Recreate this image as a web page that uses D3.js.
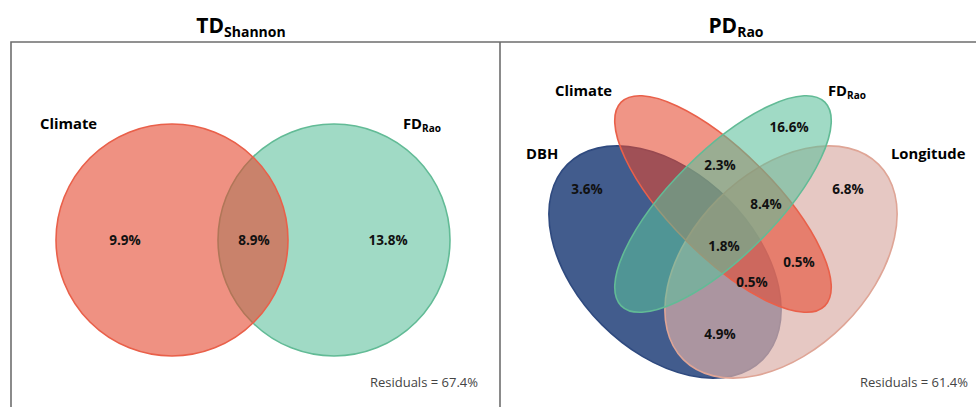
<!DOCTYPE html>
<html>
<head>
<meta charset="utf-8">
<script src="https://cdn.jsdelivr.net/npm/d3@7"></script>
<style>
  body { margin: 0; background: #fff; }
  svg { display: block; font-family: "Open Sans", "Noto Sans", sans-serif; }
</style>
</head>
<body>
<svg id="chart"></svg>
<script>
// ---- data ----
const panelTitles = [["TD", "Shannon"], ["PD", "Rao"]];

// left panel: two sets
const leftSets = [["Climate", ""], ["FD", "Rao"]];
const leftValues = ["9.9%", "8.9%", "13.8%"];     // Climate only, both, FD only
const leftResidual = "Residuals = 67.4%";

// right panel: four sets
const rightSets = [["DBH", ""], ["Climate", ""], ["FD", "Rao"], ["Longitude", ""]];
const rightValues = ["16.6%", "2.3%", "3.6%", "6.8%", "8.4%", "1.8%", "0.5%", "0.5%", "4.9%"];
const rightResidual = "Residuals = 61.4%";

// ---- layout (unit coordinates, VennDiagram style) ----
const leftCircles = [          // drawn in this order (FD under Climate)
  { set: 1, cx: 0.7025, cy: 0.5, r: 0.29, fill: "#5cc09b", op: 0.58, stroke: "#62bb96" },
  { set: 0, cx: 0.2975, cy: 0.5, r: 0.29, fill: "#e4472f", op: 0.6, stroke: "#e9604a" }
];
const leftSetPos = [[-0.0325, 0.7875], [0.875, 0.7875]];
const leftValuePos = [[0.18, 0.4975], [0.5025, 0.4975], [0.8375, 0.4975]];

const rightEllipses = [        // drawing order: DBH, Longitude, Climate, FD
  { set: 0, cx: 0.355, cy: 0.445, a: 0.345, b: 0.2225, rot: 45,  fill: "#3a5588", op: 0.96, stroke: "#2f4a7f" },
  { set: 3, cx: 0.645, cy: 0.445, a: 0.345, b: 0.2225, rot: -45, fill: "#dbafa8", op: 0.69, stroke: "#dfa596" },
  { set: 1, cx: 0.5,   cy: 0.59,  a: 0.36,  b: 0.13,  rot: 45,  fill: "#e6492f", op: 0.58, stroke: "#e9604a" },
  { set: 2, cx: 0.5,   cy: 0.59,  a: 0.36,  b: 0.13,  rot: -45, fill: "#5cc09b", op: 0.58, stroke: "#62bb96" }
];
const rightSetPos = [[0.0075, 0.7125], [0.08, 0.87], [0.7625, 0.87], [0.92, 0.7125]];
const rightValuePos = [[0.665, 0.78], [0.4925, 0.685], [0.16, 0.625], [0.8125, 0.625],
  [0.6075, 0.5875], [0.5025, 0.4825], [0.69, 0.4425], [0.5725, 0.3925], [0.4925, 0.2625]];

// ---- svg ----
const W = 976, H = 407;
const svg = d3.select("#chart").attr("width", W).attr("height", H);

// frame
svg.append("path")
  .attr("d", `M11,${H} V42 H${W} M500,42 V${H}`)
  .attr("fill", "none").attr("stroke", "#6e6e6e").attr("stroke-width", 1.6);

function subText(g, x, y, main, sub, size, subSize, anchor) {
  const t = g.append("text").attr("x", x).attr("y", y)
    .attr("font-weight", "bold").attr("font-size", size)
    .attr("text-anchor", anchor || "start").attr("dominant-baseline", "middle");
  t.append("tspan").text(main);
  if (sub) t.append("tspan").attr("font-size", subSize).attr("dy", size * 0.3).text(sub);
  return t;
}

// titles
subText(svg, 241, 27, panelTitles[0][0], panelTitles[0][1], 21, 14, "middle");
subText(svg, 736, 27, panelTitles[1][0], panelTitles[1][1], 21, 14, "middle");

// ---- left panel ----
const lx = d3.scaleLinear().domain([0, 1]).range([53, 453]);
const ly = d3.scaleLinear().domain([0, 1]).range([440, 40]);
const left = svg.append("g");

left.selectAll("circle").data(leftCircles).enter().append("circle")
  .attr("cx", d => lx(d.cx)).attr("cy", d => ly(d.cy))
  .attr("r", d => lx(d.r) - lx(0))
  .attr("fill", d => d.fill).attr("fill-opacity", d => d.op)
  .attr("stroke", d => d.stroke).attr("stroke-width", 1.6);

leftSets.forEach((s, i) => subText(left, lx(leftSetPos[i][0]), ly(leftSetPos[i][1]), s[0], s[1], 14.8, 10));

left.selectAll("text.val").data(leftValues).enter().append("text").attr("class", "val")
  .attr("x", (d, i) => lx(leftValuePos[i][0])).attr("y", (d, i) => ly(leftValuePos[i][1]))
  .attr("text-anchor", "middle").attr("dominant-baseline", "middle")
  .attr("font-weight", "bold").attr("font-size", 13.5).attr("fill", "#111")
  .text(d => d);

left.append("text").attr("x", 478).attr("y", 384)
  .attr("text-anchor", "end").attr("dominant-baseline", "middle")
  .attr("font-size", 13).attr("fill", "#444").text(leftResidual);

// ---- right panel ----
const rx = d3.scaleLinear().domain([0, 1]).range([523, 923]);
const ry = d3.scaleLinear().domain([0, 1]).range([440, 40]);
const right = svg.append("g");

right.selectAll("ellipse").data(rightEllipses).enter().append("ellipse")
  .attr("transform", d => `translate(${rx(d.cx)},${ry(d.cy)}) rotate(${d.rot})`)
  .attr("rx", d => rx(d.a) - rx(0)).attr("ry", d => rx(d.b) - rx(0))
  .attr("fill", d => d.fill).attr("fill-opacity", d => d.op)
  .attr("stroke", d => d.stroke).attr("stroke-width", 1.6);

rightSets.forEach((s, i) => subText(right, rx(rightSetPos[i][0]), ry(rightSetPos[i][1]), s[0], s[1], 14.8, 10));

right.selectAll("text.val").data(rightValues).enter().append("text").attr("class", "val")
  .attr("x", (d, i) => rx(rightValuePos[i][0])).attr("y", (d, i) => ry(rightValuePos[i][1]))
  .attr("text-anchor", "middle").attr("dominant-baseline", "middle")
  .attr("font-weight", "bold").attr("font-size", 13.5).attr("fill", "#111")
  .text(d => d);

right.append("text").attr("x", 968).attr("y", 384)
  .attr("text-anchor", "end").attr("dominant-baseline", "middle")
  .attr("font-size", 13).attr("fill", "#444").text(rightResidual);
</script>
</body>
</html>
